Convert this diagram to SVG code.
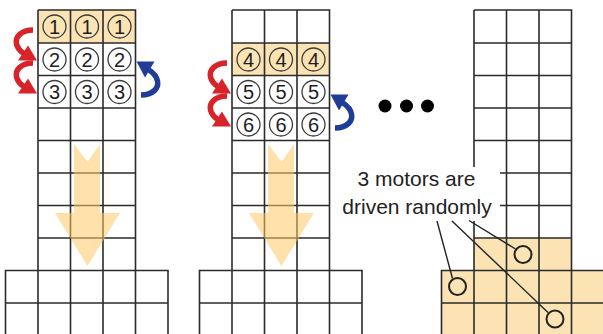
<svg xmlns="http://www.w3.org/2000/svg" xmlns:xlink="http://www.w3.org/1999/xlink" width="603" height="334" viewBox="0 0 603 334">
  <style>
    .grid { fill: none; stroke: #2b2b2b; stroke-width: 1.6; }
    .hl { fill: #fbe3b4; stroke: none; }
    .dial { fill: none; stroke: #3a3a3a; stroke-width: 1.3; }
    .num { font-family: "Liberation Sans", Arial, sans-serif; font-size: 20px; fill: #1e1e1e; text-anchor: middle; }
    .big { fill: #ffc866; fill-opacity: 0.55; }
    .red { fill: #d8232a; }
    .redline { fill: none; stroke: #d8232a; stroke-width: 5.5; }
    .blue { fill: #1f3c97; }
    .blueline { fill: none; stroke: #1f3c97; stroke-width: 5.5; }
    .label { font-family: "Liberation Sans", Arial, sans-serif; font-size: 21px; fill: #222; text-anchor: middle; }
    .lead { fill: none; stroke: #222; stroke-width: 1.4; }
    .ring { fill: none; stroke: #222; stroke-width: 2; }
  </style>
  <defs>
    <!-- one column of cells: three wide, eight rows tall, on a five-wide base -->
    <path id="tower" class="grid" d="M38,10 H135.5 V270.5 M38,10 V270.5 M70.5,10 V334 M103,10 V334
      M38,43 H135.5 M38,75.5 H135.5 M38,108 H135.5 M38,140.5 H135.5 M38,173 H135.5 M38,205.5 H135.5 M38,238 H135.5
      M5.5,334 V270.5 H168 V334 M38,270.5 V334 M135.5,270.5 V334 M5.5,303 H168"/>
    <!-- three numbered dials across one row -->
    <g id="dials">
      <circle class="dial" cx="54.5" cy="0" r="11.5"/>
      <circle class="dial" cx="87" cy="0" r="11.5"/>
      <circle class="dial" cx="119.5" cy="0" r="11.5"/>
    </g>
    <!-- wide downward arrow -->
    <polygon id="drop" class="big" points="74,144 87.5,162 100,144 100,213 120,213 87.5,266 55,213 74,213"/>
    <!-- red turning arrow -->
    <g id="turnRed">
      <path class="redline" d="M33,30 C21,30 15,37 16.5,44 C17.5,48 20,51 24,53.5"/>
      <polygon class="red" points="37,60.5 18,60.5 28,45.5"/>
    </g>
    <!-- blue turning arrow -->
    <g id="turnBlue">
      <path class="blueline" d="M141,95 C153,95 159,88 157.5,81 C156.5,76 153,72.5 149,70"/>
      <polygon class="blue" points="136.5,61.5 154.5,61.5 145,77.5"/>
    </g>
  </defs>

  <g id="column-left">
    <rect class="hl" x="38" y="10" width="97.5" height="33"/>
    <use xlink:href="#tower"/>
    <use xlink:href="#dials" transform="translate(0,26.5)"/>
    <use xlink:href="#dials" transform="translate(0,59.5)"/>
    <use xlink:href="#dials" transform="translate(0,92)"/>
    <text class="num" x="54.5" y="33.5">1</text>
    <text class="num" x="87" y="33.5">1</text>
    <text class="num" x="119.5" y="33.5">1</text>
    <text class="num" x="54.5" y="66.5">2</text>
    <text class="num" x="87" y="66.5">2</text>
    <text class="num" x="119.5" y="66.5">2</text>
    <text class="num" x="54.5" y="99">3</text>
    <text class="num" x="87" y="99">3</text>
    <text class="num" x="119.5" y="99">3</text>
    <use xlink:href="#drop"/>
    <use xlink:href="#turnRed"/>
    <use xlink:href="#turnRed" transform="translate(0,33)"/>
    <use xlink:href="#turnBlue"/>
  </g>

  <g id="column-middle" transform="translate(194,0)">
    <rect class="hl" x="38" y="43" width="97.5" height="32.5"/>
    <use xlink:href="#tower"/>
    <use xlink:href="#dials" transform="translate(0,59.5)"/>
    <use xlink:href="#dials" transform="translate(0,92)"/>
    <use xlink:href="#dials" transform="translate(0,124.5)"/>
    <text class="num" x="54.5" y="66.5">4</text>
    <text class="num" x="87" y="66.5">4</text>
    <text class="num" x="119.5" y="66.5">4</text>
    <text class="num" x="54.5" y="99">5</text>
    <text class="num" x="87" y="99">5</text>
    <text class="num" x="119.5" y="99">5</text>
    <text class="num" x="54.5" y="131.5">6</text>
    <text class="num" x="87" y="131.5">6</text>
    <text class="num" x="119.5" y="131.5">6</text>
    <use xlink:href="#drop"/>
    <use xlink:href="#turnRed" transform="translate(0,33)"/>
    <use xlink:href="#turnRed" transform="translate(0,66)"/>
    <use xlink:href="#turnBlue" transform="translate(0,33)"/>
  </g>

  <g id="ellipsis">
    <circle cx="385" cy="106" r="6.5" fill="#000"/>
    <circle cx="406.5" cy="106" r="6.5" fill="#000"/>
    <circle cx="427.5" cy="106" r="6.5" fill="#000"/>
  </g>

  <g id="column-right">
    <path class="hl" d="M474,238 H571.5 V270.5 H603 V334 H441.5 V270.5 H474 Z"/>
    <path class="grid" d="M474,10 H571.5 V334 M474,10 V334 M506.5,10 V334 M539,10 V334
      M474,43 H571.5 M474,75.5 H571.5 M474,108 H571.5 M474,140.5 H571.5 M474,173 H571.5 M474,205.5 H571.5 M474,238 H571.5
      M441.5,334 V270.5 H603 M441.5,303 H603"/>
  </g>

  <g id="label">
    <rect x="338" y="167" width="162" height="54" fill="#fff"/>
    <text class="label" x="416.5" y="186">3 motors are</text>
    <text class="label" x="417" y="214">driven randomly</text>
  </g>

  <g id="connectors">
    <line class="lead" x1="437" y1="221" x2="452.5" y2="278.5"/>
    <line class="lead" x1="452" y1="221" x2="548" y2="312.5"/>
    <line class="lead" x1="469" y1="220.5" x2="515.5" y2="249"/>
  </g>

  <g id="motors">
    <circle class="ring" cx="523" cy="254.5" r="8.5"/>
    <circle class="ring" cx="457.5" cy="286.5" r="8.5"/>
    <circle class="ring" cx="555" cy="319" r="8.5"/>
  </g>
</svg>
